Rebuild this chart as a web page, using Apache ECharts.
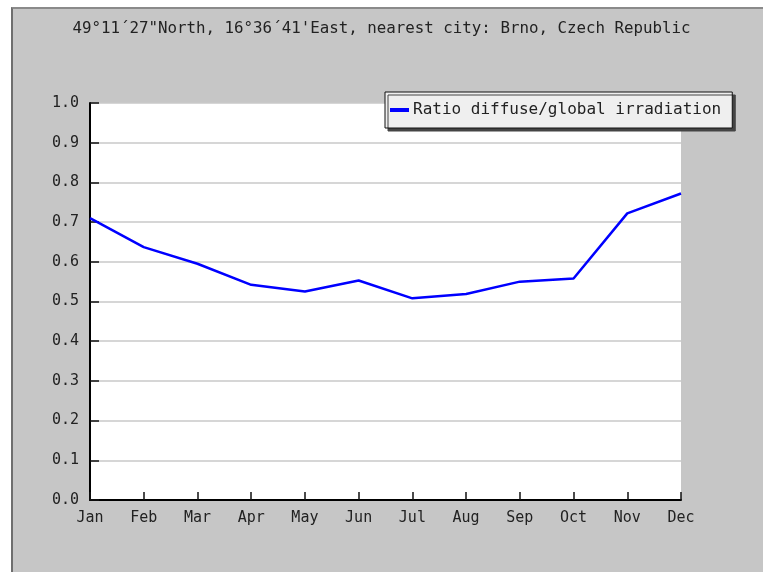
<!DOCTYPE html>
<html>
<head>
<meta charset="utf-8">
<script src="https://cdn.jsdelivr.net/npm/echarts@6/dist/echarts.min.js"></script>
<style>
  html, body { margin: 0; padding: 0; background: #fff; }
  .frame {
    position: absolute; left: 11px; top: 7px; right: 0; bottom: 0;
    background: #c6c6c6;
    border-left: 2px solid #6e6e6e;
    border-top: 2px solid #8a8a8a;
  }
  #chart { position: absolute; left: 0; top: 0; width: 763px; height: 572px; }
</style>
</head>
<body>
<div class="frame"></div>
<div id="chart"></div>
<script>
  // data
  const months = ['Jan','Feb','Mar','Apr','May','Jun','Jul','Aug','Sep','Oct','Nov','Dec'];
  const ratioDiffuseGlobal = [0.71, 0.637, 0.595, 0.542, 0.525, 0.553, 0.508, 0.519, 0.55, 0.558, 0.722, 0.772];
  const seriesName = 'Ratio diffuse/global irradiation';
  const titleText = '49°11´27"North, 16°36´41\'East, nearest city: Brno, Czech Republic';

  const mono = 'DejaVu Sans Mono';
  const chart = echarts.init(document.getElementById('chart'));

  chart.setOption({
    backgroundColor: 'transparent',
    animation: false,
    title: {
      text: titleText,
      left: 'center',
      top: 16,
      textStyle: { fontFamily: mono, fontSize: 15.8, fontWeight: 'normal', color: '#222' }
    },
    legend: {
      data: [seriesName],
      left: 385,
      top: 92,
      padding: [10, 11, 10, 5],
      backgroundColor: '#efefef',
      borderColor: '#111',
      borderWidth: 1,
      borderRadius: 0,
      shadowColor: '#444',
      shadowBlur: 0,
      shadowOffsetX: 3,
      shadowOffsetY: 3,
      icon: 'rect',
      itemWidth: 19,
      itemHeight: 4,
      itemGap: 4,
      textStyle: { fontFamily: mono, fontSize: 16, color: '#222', padding: [0, 0, 0, -1] }
    },
    grid: {
      left: 90, right: 82, top: 103, bottom: 72,
      show: true, backgroundColor: '#fff', borderWidth: 0
    },
    xAxis: {
      type: 'category',
      data: months,
      boundaryGap: false,
      axisLine: { lineStyle: { color: '#000', width: 2 } },
      axisTick: { inside: true, length: 8, lineStyle: { color: '#111', width: 1.5 } },
      axisLabel: { fontFamily: mono, fontSize: 15, color: '#222', margin: 11 },
      splitLine: { show: false }
    },
    yAxis: {
      type: 'value',
      min: 0, max: 1, interval: 0.1,
      axisLine: { show: true, lineStyle: { color: '#000', width: 2 } },
      axisTick: { show: true, inside: true, length: 9, lineStyle: { color: '#111', width: 1.5 } },
      axisLabel: {
        fontFamily: mono, fontSize: 15, color: '#222', margin: 11,
        formatter: v => v.toFixed(1)
      },
      splitLine: { lineStyle: { color: '#c8c8c8', width: 1.5 } }
    },
    series: [{
      name: seriesName,
      type: 'line',
      data: ratioDiffuseGlobal,
      showSymbol: false,
      symbol: 'none',
      color: '#0000ff',
      lineStyle: { color: '#0000ff', width: 2.5 }
    }]
  });
</script>
</body>
</html>
